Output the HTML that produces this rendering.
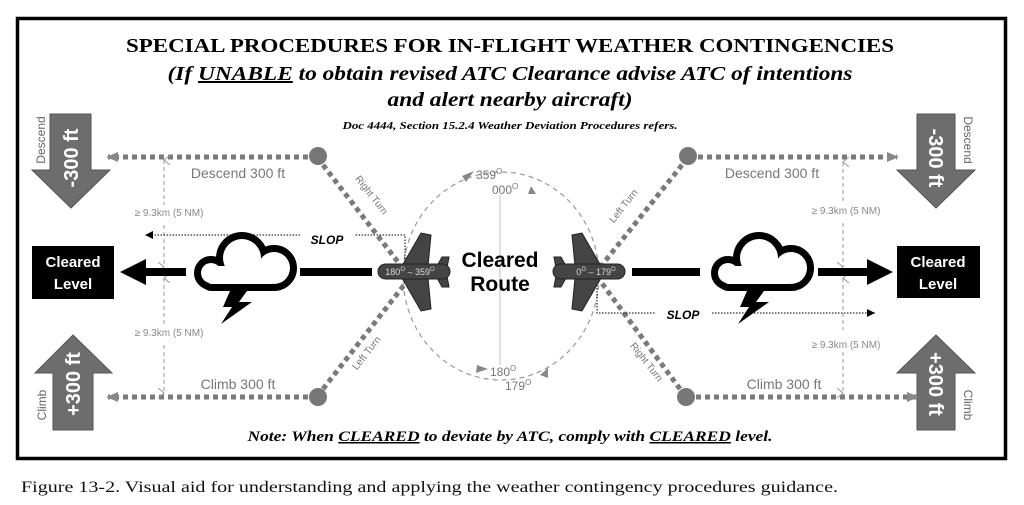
<!DOCTYPE html>
<html><head><meta charset="utf-8"><style>
html,body{margin:0;padding:0;background:#fff;}
svg{display:block;}
.s{font-family:"Liberation Sans",sans-serif;}
.r{font-family:"Liberation Serif",serif;}
</style></head><body>
<svg width="1024" height="505" viewBox="0 0 1024 505" xmlns="http://www.w3.org/2000/svg">
<defs>
<marker id="ka" markerWidth="8" markerHeight="8" refX="8" refY="4" orient="auto" markerUnits="userSpaceOnUse"><path d="M0,0 L8,4 L0,8 Z" fill="#000"/></marker>
<marker id="va" markerWidth="10" markerHeight="8" refX="5" refY="1" orient="auto-start-reverse" markerUnits="userSpaceOnUse"><path d="M0,7 L5,1 L10,7" fill="none" stroke="#999" stroke-width="1"/></marker>
<marker id="ca" markerWidth="12" markerHeight="10" refX="10" refY="5" orient="auto" markerUnits="userSpaceOnUse"><path d="M0,0 L12,5 L0,10 Z" fill="#888"/></marker>
</defs>
<rect x="17.5" y="18.5" width="988" height="440" fill="none" stroke="#000" stroke-width="3.5"/>
<text x="510" y="52" text-anchor="middle" class="r" font-weight="bold" font-size="20" textLength="768" lengthAdjust="spacingAndGlyphs">SPECIAL PROCEDURES FOR IN-FLIGHT WEATHER CONTINGENCIES</text>
<text x="510" y="80" text-anchor="middle" class="r" font-weight="bold" font-style="italic" font-size="20" textLength="685" lengthAdjust="spacingAndGlyphs">(If <tspan text-decoration="underline">UNABLE</tspan> to obtain revised ATC Clearance advise ATC of intentions</text>
<text x="510" y="106" text-anchor="middle" class="r" font-weight="bold" font-style="italic" font-size="20" textLength="245" lengthAdjust="spacingAndGlyphs">and alert nearby aircraft)</text>
<text x="510" y="129" text-anchor="middle" class="r" font-weight="bold" font-style="italic" font-size="10" textLength="335" lengthAdjust="spacingAndGlyphs">Doc 4444, Section 15.2.4 Weather Deviation Procedures refers.</text>

<g fill="#6d6d6d" stroke="#555" stroke-width="1">
<polygon points="50,114 91,114 91,170 110,170 71,208 32,170 50,170"/>
<polygon points="917,114 955,114 955,170 975,170 936,208 897,170 917,170"/>
<polygon points="73,335 112,373 93,373 93,430 53,430 53,373 35,373"/>
<polygon points="936,335 975,373 955,373 955,430 917,430 917,373 897,373"/>
</g>
<g class="s" font-weight="bold" font-size="20" fill="#fff" text-anchor="middle">
<text transform="translate(78,158) rotate(-90)">-300 ft</text>
<text transform="translate(929,158) rotate(90)">-300 ft</text>
<text transform="translate(80,384) rotate(-90)">+300 ft</text>
<text transform="translate(929,384) rotate(90)">+300 ft</text>
</g>
<g class="s" font-size="12" fill="#666" text-anchor="middle">
<text transform="translate(45,140) rotate(-90)">Descend</text>
<text transform="translate(964,140) rotate(90)">Descend</text>
<text transform="translate(46,405) rotate(-90)">Climb</text>
<text transform="translate(964,405) rotate(90)">Climb</text>
</g>

<rect x="32" y="246" width="82" height="53" fill="#000"/>
<rect x="897" y="246" width="83" height="52" fill="#000"/>
<g class="s" font-weight="bold" font-size="15" fill="#fff" text-anchor="middle">
<text x="73" y="267">Cleared</text><text x="73" y="289">Level</text>
<text x="938" y="267">Cleared</text><text x="938" y="289">Level</text>
</g>

<ellipse cx="501" cy="276" rx="98" ry="104" fill="none" stroke="#999" stroke-width="1.2" stroke-dasharray="5,4"/>
<line x1="500" y1="195" x2="500" y2="365" stroke="#ccc" stroke-width="1.2"/>
<g fill="#888">
<polygon points="462,176 474,171 466,182"/>
<polygon points="528,194 536,194 531,186"/>
<polygon points="477,365 488,369 476,373"/>
<polygon points="548,368 540,375 548,378"/>
</g>
<g class="s" font-size="12" fill="#777">
<text x="476" y="179">359<tspan font-size="8" dy="-5">O</tspan></text>
<text x="492" y="194">000<tspan font-size="8" dy="-5">O</tspan></text>
<text x="490" y="376">180<tspan font-size="8" dy="-5">O</tspan></text>
<text x="505" y="390">179<tspan font-size="8" dy="-5">O</tspan></text>
</g>

<g stroke="#7a7a7a" stroke-width="5" stroke-dasharray="5,4" fill="none">
<line x1="308" y1="157" x2="108" y2="157" marker-end="url(#ca)"/>
<line x1="308" y1="397" x2="108" y2="397" marker-end="url(#ca)"/>
<line x1="698" y1="157" x2="897" y2="157" marker-end="url(#ca)"/>
<line x1="696" y1="397" x2="917" y2="397" marker-end="url(#ca)"/>
<line x1="323" y1="165" x2="408" y2="275"/>
<line x1="323" y1="389" x2="408" y2="280"/>
<line x1="682" y1="165" x2="598" y2="270"/>
<line x1="680" y1="389" x2="598" y2="278"/>
</g>
<g fill="#777">
<circle cx="318" cy="156" r="9"/><circle cx="318" cy="397" r="9"/>
<circle cx="688" cy="156" r="9"/><circle cx="686" cy="397" r="9"/>
</g>
<g class="s" font-size="10" fill="#777" text-anchor="middle">
<text transform="translate(369,197) rotate(52)">Right Turn</text>
<text transform="translate(369,355) rotate(-52)">Left Turn</text>
<text transform="translate(626,208) rotate(-52)">Left Turn</text>
<text transform="translate(644,364) rotate(52)">Right Turn</text>
</g>
<g class="s" font-size="14" fill="#777" text-anchor="middle">
<text x="238" y="178">Descend 300 ft</text>
<text x="238" y="389">Climb 300 ft</text>
<text x="772" y="178">Descend 300 ft</text>
<text x="784" y="389">Climb 300 ft</text>
</g>

<g stroke="#999" stroke-width="1" stroke-dasharray="4,3" fill="none">
<line x1="164" y1="160" x2="164" y2="205" marker-start="url(#va)"/>
<line x1="164" y1="225" x2="164" y2="267" marker-end="url(#va)"/>
<line x1="164" y1="278" x2="164" y2="325" marker-start="url(#va)"/>
<line x1="164" y1="345" x2="164" y2="393" marker-end="url(#va)"/>
<line x1="843" y1="162" x2="843" y2="203" marker-start="url(#va)"/>
<line x1="843" y1="223" x2="843" y2="267" marker-end="url(#va)"/>
<line x1="843" y1="278" x2="843" y2="330" marker-start="url(#va)"/>
<line x1="843" y1="352" x2="843" y2="393" marker-end="url(#va)"/>
</g>
<g class="s" font-size="10" fill="#888" text-anchor="middle">
<text x="169" y="216">≥ 9.3km (5 NM)</text>
<text x="169" y="336">≥ 9.3km (5 NM)</text>
<text x="846" y="214">≥ 9.3km (5 NM)</text>
<text x="846" y="348">≥ 9.3km (5 NM)</text>
</g>

<g stroke="#000" stroke-width="1" stroke-dasharray="1.5,1.5" fill="none">
<polyline points="405,268 405,235 355,235"/>
<line x1="300" y1="235" x2="145" y2="235" marker-end="url(#ka)"/>
<polyline points="597,276 597,313 655,313"/>
<line x1="712" y1="313" x2="875" y2="313" marker-end="url(#ka)"/>
</g>
<g class="s" font-weight="bold" font-style="italic" font-size="12" fill="#000" text-anchor="middle">
<text x="327" y="244">SLOP</text>
<text x="683" y="319">SLOP</text>
</g>

<g fill="#000">
<rect x="140" y="268" width="46" height="8"/>
<polygon points="120,272 146,259 146,285"/>
<rect x="300" y="268" width="72" height="8"/>
<rect x="632" y="268" width="68" height="8"/>
<rect x="818" y="268" width="55" height="8"/>
<polygon points="893,272 867,259 867,285"/>
</g>

<g id="cl">
<g fill="#000" stroke="#000" stroke-width="14" stroke-linejoin="round">
<circle cx="242" cy="258" r="19"/><circle cx="274" cy="268" r="16"/><circle cx="211" cy="273" r="10"/>
<rect x="206" y="266" width="70" height="18" rx="6"/>
</g>
<g fill="#fff">
<circle cx="242" cy="258" r="19"/><circle cx="274" cy="268" r="16"/><circle cx="211" cy="273" r="10"/>
<rect x="206" y="266" width="70" height="18" rx="6"/>
</g>
<polygon points="230,291 247,291 239,302 252,302 221,324 232,307 223,307" fill="#000"/>
</g>
<use href="#cl" transform="translate(517,0)"/>

<g fill="#444" stroke="#222" stroke-width="1">
<polygon points="402,266 421,233 431,235 428,266"/>
<polygon points="402,278 421,311 431,309 428,278"/>
<polygon points="437,266 442,257 449,257 447,268"/>
<polygon points="437,278 442,287 449,287 447,276"/>
<rect x="378" y="264" width="72" height="15" rx="7.5"/>
</g>
<text x="410" y="275" class="s" font-size="9" fill="#ddd" text-anchor="middle">180<tspan font-size="6" dy="-4">O</tspan><tspan dy="4"> – 359</tspan><tspan font-size="6" dy="-4">O</tspan></text>
<g transform="translate(1003,0) scale(-1,1)" fill="#444" stroke="#222" stroke-width="1">
<polygon points="402,266 421,233 431,235 428,266"/>
<polygon points="402,278 421,311 431,309 428,278"/>
<polygon points="437,266 442,257 449,257 447,268"/>
<polygon points="437,278 442,287 449,287 447,276"/>
<rect x="378" y="264" width="72" height="15" rx="7.5"/>
</g>
<text x="596" y="275" class="s" font-size="9" fill="#ddd" text-anchor="middle">0<tspan font-size="6" dy="-4">O</tspan><tspan dy="4"> – 179</tspan><tspan font-size="6" dy="-4">O</tspan></text>

<g class="s" font-weight="bold" font-size="21" fill="#000" text-anchor="middle">
<text x="500" y="267">Cleared</text><text x="500" y="291">Route</text>
</g>

<text x="510" y="441" text-anchor="middle" class="r" font-weight="bold" font-style="italic" font-size="15" textLength="525" lengthAdjust="spacingAndGlyphs">Note: When <tspan text-decoration="underline">CLEARED</tspan> to deviate by ATC, comply with <tspan text-decoration="underline">CLEARED</tspan> level.</text>
<text x="21" y="492" class="r" font-size="16" fill="#111" textLength="817" lengthAdjust="spacingAndGlyphs">Figure 13-2. Visual aid for understanding and applying the weather contingency procedures guidance.</text>
</svg>
</body></html>
